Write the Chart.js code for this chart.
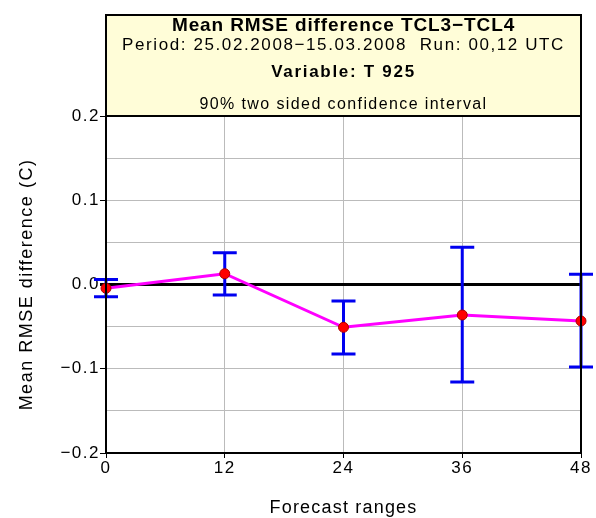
<!DOCTYPE html>
<html>
<head>
<meta charset="utf-8">
<script src="https://cdn.jsdelivr.net/npm/chart.js@4.4.1/dist/chart.umd.min.js"></script>
<style>
  html, body { margin: 0; padding: 0; background: #fff; }
  #wrap { position: relative; width: 596px; height: 518px; }
</style>
</head>
<body>
<div id="wrap"><canvas id="chart"></canvas></div>
<script>
// ── Data ────────────────────────────────────────────────────────────
const forecastRanges = [0, 12, 24, 36, 48];
const meanDiff = [-0.0045, 0.0128, -0.0508, -0.0362, -0.0433];
const ciUpper = [0.006, 0.0378, -0.0196, 0.0442, 0.0121];
const ciLower = [-0.0145, -0.0125, -0.0825, -0.1158, -0.098];
const yTickLabels = ['0.2', '0.1', '0.0', '\u22120.1', '\u22120.2'];

const FONT = '"Liberation Sans", Arial, sans-serif';

const titleLines = [
    { text: 'Mean RMSE difference TCL3\u2212TCL4', font: 'bold 19px ' + FONT, spacing: '0.9px', y: 31 },
    { text: 'Period: 25.02.2008\u221215.03.2008  Run: 00,12 UTC', font: '17px ' + FONT, spacing: '1.6px', y: 50 },
    { text: 'Variable: T 925', font: 'bold 17px ' + FONT, spacing: '1.7px', y: 77 },
    { text: '90% two sided confidence interval', font: '16px ' + FONT, spacing: '1.4px', y: 109 }
];
const xTitle = 'Forecast ranges';
const yTitle = 'Mean RMSE difference (C)';

// title box above the plot, axis titles, and frame
const frame = {
    id: 'frame',
    beforeDraw(chart) {
        const { ctx, chartArea } = chart;
        const top = 15;
        ctx.save();
        ctx.fillStyle = '#fffdd8';
        ctx.fillRect(chartArea.left, top, chartArea.right - chartArea.left, chartArea.top - top);
        ctx.strokeStyle = '#000';
        ctx.lineWidth = 2;
        ctx.strokeRect(chartArea.left, top, chartArea.right - chartArea.left, chartArea.top - top);
        ctx.fillStyle = '#000';
        ctx.textAlign = 'center';
        ctx.textBaseline = 'alphabetic';
        const cx = (chartArea.left + chartArea.right) / 2;
        titleLines.forEach(l => {
            ctx.font = l.font;
            ctx.letterSpacing = l.spacing;
            ctx.fillText(l.text, cx, l.y);
        });

        // axis titles
        ctx.font = '18px ' + FONT;
        ctx.letterSpacing = '1.2px';
        ctx.fillText(xTitle, cx, 513);
        ctx.translate(32, (chartArea.top + chartArea.bottom) / 2);
        ctx.rotate(-Math.PI / 2);
        ctx.letterSpacing = '1.5px';
        ctx.fillText(yTitle, 0, 0);
        ctx.restore();
        // tick labels are a bit loose in the reference
        ctx.letterSpacing = '1.5px';
    },
    afterDatasetsDraw(chart) {
        const { ctx, chartArea } = chart;
        ctx.save();
        ctx.strokeStyle = '#000';
        ctx.lineWidth = 2;
        ctx.strokeRect(chartArea.left, chartArea.top, chartArea.right - chartArea.left, chartArea.bottom - chartArea.top);
        ctx.restore();
    }
};

// confidence interval bars drawn under the line and points
const errorBars = {
    id: 'errorBars',
    beforeDatasetsDraw(chart) {
        const { ctx, scales: { x, y } } = chart;
        ctx.save();
        ctx.strokeStyle = '#0000f0';
        ctx.lineWidth = 3;
        forecastRanges.forEach((r, i) => {
            const px = x.getPixelForValue(r);
            const hi = y.getPixelForValue(ciUpper[i]);
            const lo = y.getPixelForValue(ciLower[i]);
            ctx.beginPath();
            ctx.moveTo(px, hi); ctx.lineTo(px, lo);
            ctx.moveTo(px - 12, hi); ctx.lineTo(px + 12, hi);
            ctx.moveTo(px - 12, lo); ctx.lineTo(px + 12, lo);
            ctx.stroke();
        });
        ctx.restore();
    }
};

new Chart(document.getElementById('chart'), {
    type: 'line',
    data: {
        datasets: [{
            data: forecastRanges.map((r, i) => ({ x: r, y: meanDiff[i] })),
            borderColor: '#ff00ff',
            borderWidth: 3,
            pointRadius: 5,
            pointBackgroundColor: '#ff0000',
            pointBorderColor: '#aa0000',
            pointBorderWidth: 1,
            tension: 0,
            clip: false
        }]
    },
    options: {
        responsive: true,
        maintainAspectRatio: false,
        animation: false,
        layout: { padding: { top: 116, right: 15, left: 0, bottom: 0 } },
        plugins: {
            legend: { display: false },
            tooltip: { enabled: false }
        },
        scales: {
            x: {
                type: 'linear',
                min: 0,
                max: 48,
                afterFit: s => { s.height = 65; },
                ticks: {
                    stepSize: 12,
                    color: '#000',
                    padding: 0,
                    maxRotation: 0,
                    font: { family: FONT, size: 17 }
                },
                grid: { color: '#bbbbbb', lineWidth: 1, tickLength: 5, tickColor: '#000' },
                border: { color: '#000', width: 2 }
            },
            y: {
                min: -0.2,
                max: 0.2,
                afterFit: s => { s.width = 106; },
                ticks: {
                    stepSize: 0.05,
                    color: '#000',
                    padding: 0,
                    autoSkip: false,
                    font: { family: FONT, size: 17 },
                    callback: v => {
                        const idx = [0.2, 0.1, 0, -0.1, -0.2].findIndex(t => Math.abs(t - v) < 1e-6);
                        return idx >= 0 ? yTickLabels[idx] : '';
                    }
                },
                grid: {
                    color: c => Math.abs(c.tick.value) < 1e-6 ? '#000' : '#bbbbbb',
                    lineWidth: c => Math.abs(c.tick.value) < 1e-6 ? 3 : 1,
                    tickLength: 6,
                    tickColor: c => (Math.round(c.tick.value * 100) % 10 === 0) ? '#000' : 'rgba(0,0,0,0)'
                },
                border: { color: '#000', width: 2 }
            }
        }
    },
    plugins: [frame, errorBars]
});
</script>
</body>
</html>
